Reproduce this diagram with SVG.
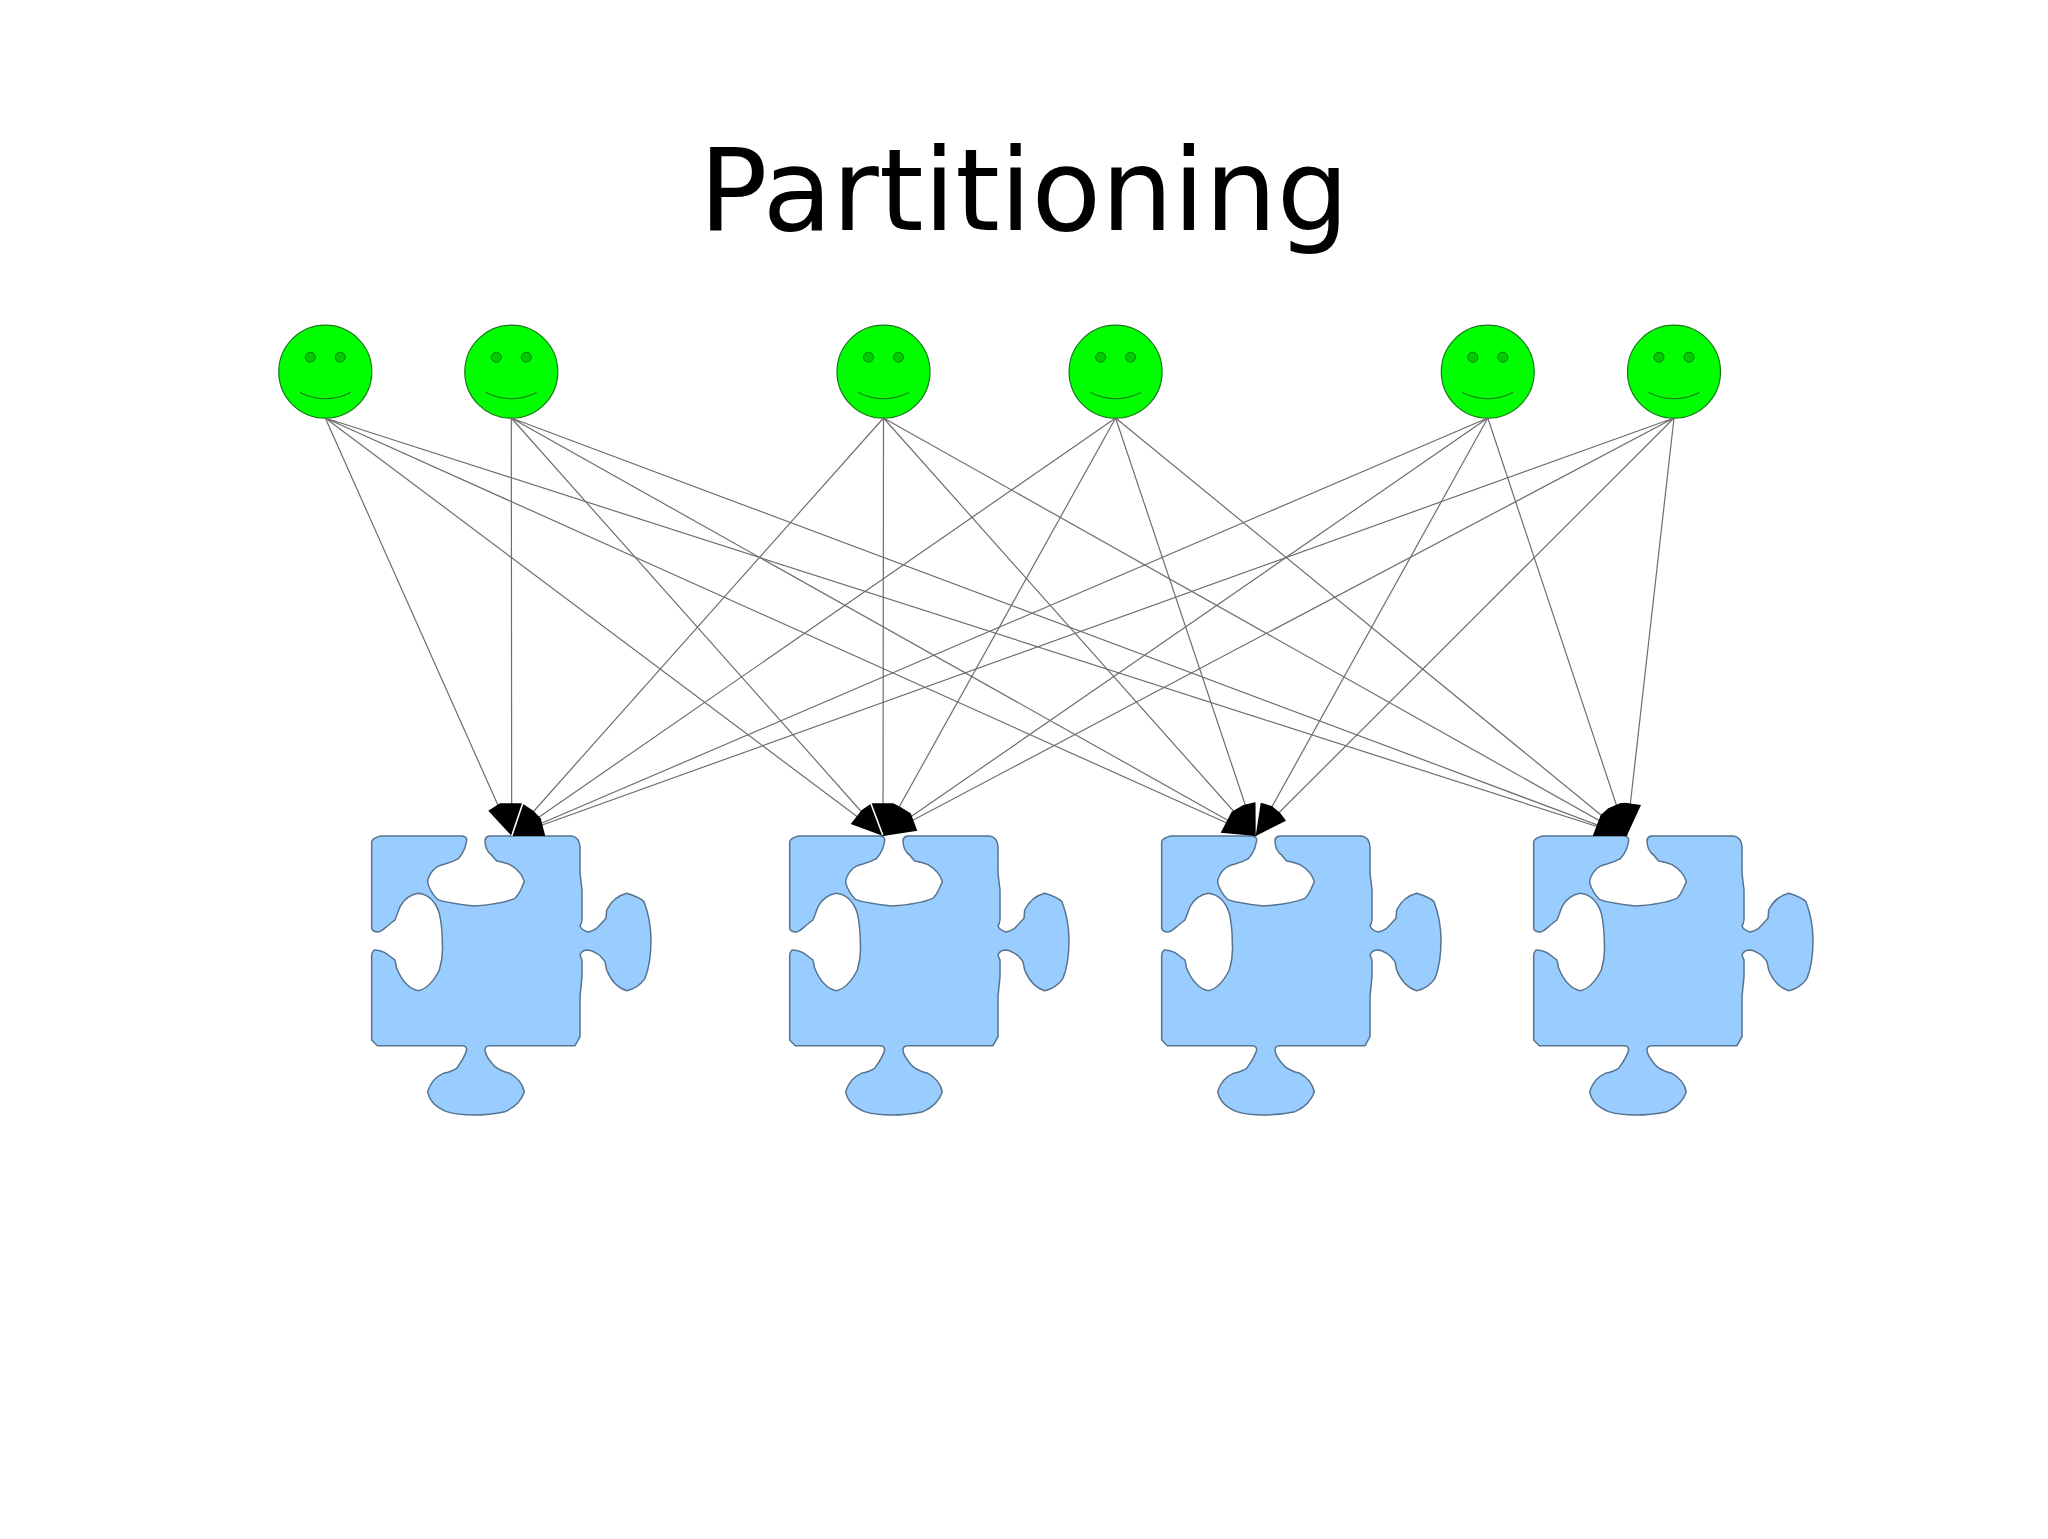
<svg xmlns="http://www.w3.org/2000/svg" width="2048" height="1539" viewBox="0 0 2048 1539">
<style>
.title{font-family:"DejaVu Sans",sans-serif;font-size:113.8px;fill:#000}
.piece{fill:#99ccff;stroke:#56748f;stroke-width:4.5;stroke-linejoin:round}
.face{fill:#00ff00;stroke:#157a15;stroke-width:1.2}
.eye{fill:#00cc00;stroke:#0a7a0a;stroke-width:1}
.mouth{fill:none;stroke:#157a15;stroke-width:1.1}
.link{stroke:#6e6e6e;stroke-width:1.2;fill:none}
.head{fill:#000;stroke:none}
.slit{stroke:#fff;stroke-width:1.6}
</style>
<defs>
<path id="piece" class="piece" transform="translate(350 780) scale(.33333)" d="M65 185Q68 174 92 168L335 168Q352 170 350 182L345 203Q338 222 325 236Q310 245 285 252Q262 256 248 272Q233 290 233 308Q240 335 262 358Q285 368 372 378Q455 372 495 355Q505 345 512 330L523 305Q515 275 480 254Q455 245 440 243Q430 232 425 225Q405 212 405 180Q407 170 418 168L665 168Q688 172 690 200L690 280L696 330L696 420Q694 432 690 438Q696 452 715 456Q730 452 740 445Q755 430 768 415L770 390Q790 350 830 340Q865 350 882 365Q903 420 903 480Q903 550 885 595Q865 625 830 632Q790 620 770 570L765 545Q750 525 740 520Q725 510 710 510Q695 512 690 525L696 540L696 590L690 650L690 770L675 797L418 797Q405 798 405 810Q406 830 435 860Q455 875 480 880Q515 900 523 935Q510 975 465 995Q415 1005 372 1005Q320 1005 290 995Q240 975 233 935Q245 895 280 880Q305 875 320 865Q345 830 350 810Q350 798 338 797L82 797L65 780L65 525Q68 510 75 510Q90 510 105 518L135 540L140 565Q165 625 205 632Q240 625 268 570Q280 530 277 490Q277 440 268 400Q250 345 205 340Q170 345 150 380L135 420Q115 435 110 440Q90 458 80 456Q68 455 65 445Z"/>
<g id="smile">
<circle class="face" cx="0" cy="0" r="46.5"/>
<circle class="eye" cx="-15" cy="-14.5" r="5"/>
<circle class="eye" cx="15" cy="-14.5" r="5"/>
<path class="mouth" d="M-25.3 20.7Q0 33.3 25.3 20.7"/>
</g>
</defs>
<text class="title" x="1024" y="230" text-anchor="middle">Partitioning</text>
<g id="piece1"><use href="#piece"/></g>
<g id="piece2"><use href="#piece" x="418"/></g>
<g id="piece3"><use href="#piece" x="790"/></g>
<g id="piece4"><use href="#piece" x="1162"/></g>
<g id="user1"><use href="#smile" x="325.3" y="371.7"/></g>
<g id="user2"><use href="#smile" x="511.3" y="371.7"/></g>
<g id="user3"><use href="#smile" x="883.5" y="371.7"/></g>
<g id="user4"><use href="#smile" x="1115.6" y="371.7"/></g>
<g id="user5"><use href="#smile" x="1487.8" y="371.7"/></g>
<g id="user6"><use href="#smile" x="1674" y="371.7"/></g>
<g id="connectors">
<path class="link" d="M325.3 418L511.7 836M325.3 418L883 836M325.3 418L1255.7 836M325.3 418L1626.7 836"/>
<path class="link" d="M511.3 418L511.7 836M511.3 418L883 836M511.3 418L1255.7 836M511.3 418L1626.7 836"/>
<path class="link" d="M883.5 418L511.7 836M883.5 418L883 836M883.5 418L1255.7 836M883.5 418L1626.7 836"/>
<path class="link" d="M1115.6 418L511.7 836M1115.6 418L883 836M1115.6 418L1255.7 836M1115.6 418L1626.7 836"/>
<path class="link" d="M1487.8 418L511.7 836M1487.8 418L883 836M1487.8 418L1255.7 836M1487.8 418L1626.7 836"/>
<path class="link" d="M1674 418L511.7 836M1674 418L883 836M1674 418L1255.7 836M1674 418L1626.7 836"/>
<polygon class="head" points="511.7,836 488.3,810.7 500,803.3 521.7,803.3 524.3,804.7 533.3,810.7 540.7,818.3 545,835 545,836"/>
<line class="slit" x1="511.7" y1="836" x2="522.7" y2="803.5"/>
<polygon class="head" points="883.3,836 850.7,824 861.7,810 871.7,803.3 893.3,803.3 900,806.7 910.7,813.3 917.3,830.7"/>
<line class="slit" x1="882.7" y1="835" x2="870.7" y2="803"/>
<polygon class="head" points="1255.7,836 1220.7,832.7 1231.7,811.7 1243.3,805 1255,802.3 1261,802.7 1271.7,806 1280,812.7 1286,820.7"/>
<polygon points="1255.7,836 1255.5,801 1261,801" fill="#fff"/>
<polygon class="head" points="1626.7,836 1592.7,836 1600.7,815 1608.3,808.3 1620,803.3 1625,802.7 1641,805"/>
</g>
</svg>
